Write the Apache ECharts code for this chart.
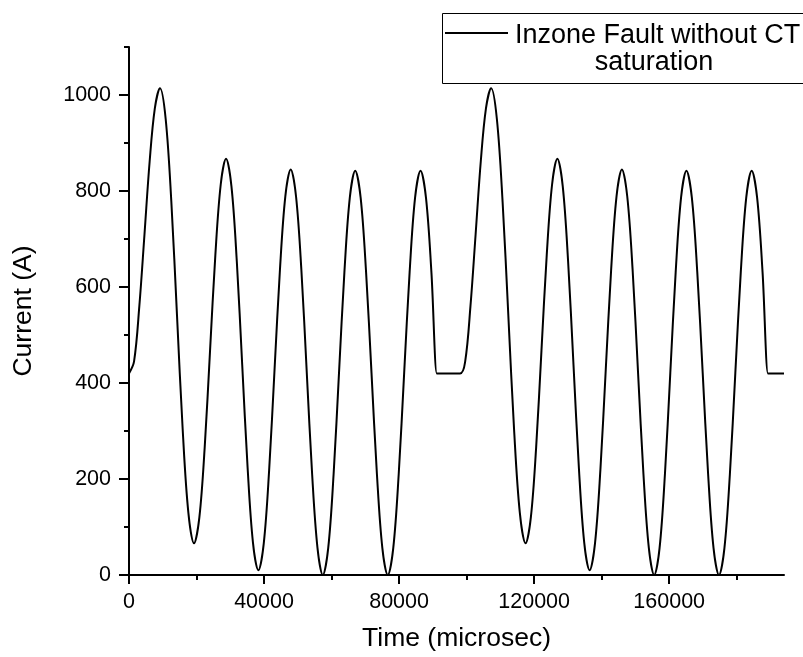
<!DOCTYPE html>
<html>
<head>
<meta charset="utf-8">
<script src="https://cdn.jsdelivr.net/npm/echarts@6/dist/echarts.min.js"></script>
<style>
html,body{margin:0;padding:0;background:#fff;}
#chart{width:803px;height:657px;}
</style>
</head>
<body>
<div id="chart"></div>
<script>
// Time samples (microseconds)
const timeUs = [
  0, 1500, 3060, 4590, 6120, 7650, 9185,
  10864, 12544, 14222, 15901, 17581, 19260,
  20840, 22420, 24000, 25580, 27160, 28740,
  30337, 31933, 33530, 35127, 36723, 38320,
  39917, 41513, 43110, 44707, 46303, 47900,
  49483, 51067, 52650, 54233, 55817, 57400,
  59000, 60600, 62200, 63800, 65400, 67000,
  68608, 70217, 71825, 73433, 75042, 76650,
  78267, 79883, 81500, 83117, 84733, 86350,
  87958, 89567, 91175, 91400, 98075,
  99575, 101135, 102665, 104195, 105725, 107260,
  108958, 110657, 112355, 114053, 115752, 117450,
  119020, 120590, 122160, 123730, 125300, 126870,
  128463, 130057, 131650, 133243, 134837, 136430,
  138023, 139617, 141210, 142803, 144397, 145990,
  147583, 149177, 150770, 152363, 153957, 155550,
  157142, 158733, 160325, 161917, 163508, 165100,
  166707, 168313, 169920, 171527, 173133, 174740,
  176355, 177970, 179585, 181200, 182815, 184430,
  186038, 187647, 189255, 189480, 194000
];
// Current values (A)
const currentA = [
  420, 445, 560, 710, 862, 972, 1014,
  950, 777, 540, 303, 130, 66,
  120, 266, 467, 667, 813, 867,
  810, 653, 438, 224, 67, 10,
  66, 219, 428, 636, 789, 845,
  788, 634, 422, 211, 57, 0,
  56, 210, 421, 631, 786, 842,
  786, 631, 421, 210, 56, 0,
  56, 210, 421, 631, 786, 842,
  786, 631, 420, 420, 420,
  445, 560, 710, 862, 972, 1014,
  950, 777, 540, 303, 130, 66,
  120, 266, 467, 667, 813, 867,
  810, 653, 438, 224, 67, 10,
  66, 219, 428, 636, 789, 845,
  788, 634, 422, 211, 57, 0,
  56, 210, 421, 631, 786, 842,
  786, 631, 421, 210, 56, 0,
  56, 210, 421, 631, 786, 842,
  786, 631, 420, 420, 420
];
const xMajorTicks = [0, 40000, 80000, 120000, 160000];
const xMinorTicks = [20000, 60000, 100000, 140000, 180000];
const yMajorTicks = [0, 200, 400, 600, 800, 1000];
const yMinorTicks = [100, 300, 500, 700, 900, 1100];
const seriesName = 'Inzone Fault without CT saturation';
const legendLine1 = 'Inzone Fault without CT';
const legendLine2 = 'saturation';
const xName = 'Time (microsec)';
const yName = 'Current (A)';

const FONT = '"Liberation Sans", Arial, sans-serif';
const chart = echarts.init(document.getElementById('chart'), null, {renderer: 'canvas'});

const axisLineStyle = {color: '#000', width: 2};
const plain = v => String(v);

chart.setOption({
  animation: false,
  backgroundColor: '#fff',
  grid: {left: 129, right: 19, top: 47, bottom: 82, containLabel: false, outerBoundsMode: 'none'},
  xAxis: [
    {
      type: 'value', min: 0, max: 194000, position: 'bottom',
      name: xName, nameLocation: 'middle', nameGap: 50,
      nameTextStyle: {fontSize: 26.5, fontFamily: FONT, color: '#000'},
      axisLine: {show: true, onZero: false, lineStyle: axisLineStyle},
      axisTick: {show: true, inside: false, length: 9, lineStyle: axisLineStyle, customValues: xMajorTicks},
      axisLabel: {show: true, margin: 16, fontSize: 21.5, fontFamily: FONT, color: '#000', customValues: xMajorTicks, formatter: plain},
      splitLine: {show: false}
    },
    {
      type: 'value', min: 0, max: 194000, position: 'bottom', offset: 0,
      axisLine: {show: false},
      axisTick: {show: true, inside: false, length: 5, lineStyle: axisLineStyle, customValues: xMinorTicks},
      axisLabel: {show: false},
      splitLine: {show: false}
    }
  ],
  yAxis: [
    {
      type: 'value', min: 0, max: 1100, position: 'left',
      name: yName, nameLocation: 'middle', nameGap: 92, nameRotate: 90,
      nameTextStyle: {fontSize: 26.5, fontFamily: FONT, color: '#000'},
      axisLine: {show: true, onZero: false, lineStyle: axisLineStyle},
      axisTick: {show: true, inside: false, length: 10, lineStyle: axisLineStyle, customValues: yMajorTicks},
      axisLabel: {show: true, margin: 18, fontSize: 21.5, fontFamily: FONT, color: '#000', customValues: yMajorTicks, formatter: plain},
      splitLine: {show: false}
    },
    {
      type: 'value', min: 0, max: 1100, position: 'left', offset: 0,
      axisLine: {show: false},
      axisTick: {show: true, inside: false, length: 5, lineStyle: axisLineStyle, customValues: yMinorTicks},
      axisLabel: {show: false},
      splitLine: {show: false}
    }
  ],
  series: [{
    name: seriesName,
    type: 'line',
    xAxisIndex: 0, yAxisIndex: 0,
    data: timeUs.map((t, i) => [t, currentA[i]]),
    showSymbol: false,
    smooth: 0.35,
    lineStyle: {color: '#000', width: 2},
    itemStyle: {color: '#000'}
  }],
  graphic: [
    {type: 'rect', z: 100, shape: {x: 442.5, y: 13.5, width: 380, height: 70},
     style: {fill: '#fff', stroke: '#000', lineWidth: 1}},
    {type: 'line', z: 101, shape: {x1: 445, y1: 33, x2: 508, y2: 33},
     style: {stroke: '#000', lineWidth: 2}},
    {type: 'text', z: 101, x: 515, y: 35.5,
     style: {text: legendLine1, fontSize: 27, fontFamily: FONT, fill: '#000',
             align: 'left', textAlign: 'left', verticalAlign: 'middle', textVerticalAlign: 'middle'}},
    {type: 'text', z: 101, x: 654, y: 63,
     style: {text: legendLine2, fontSize: 27, fontFamily: FONT, fill: '#000',
             align: 'center', textAlign: 'center', verticalAlign: 'middle', textVerticalAlign: 'middle'}}
  ]
});
</script>
</body>
</html>
